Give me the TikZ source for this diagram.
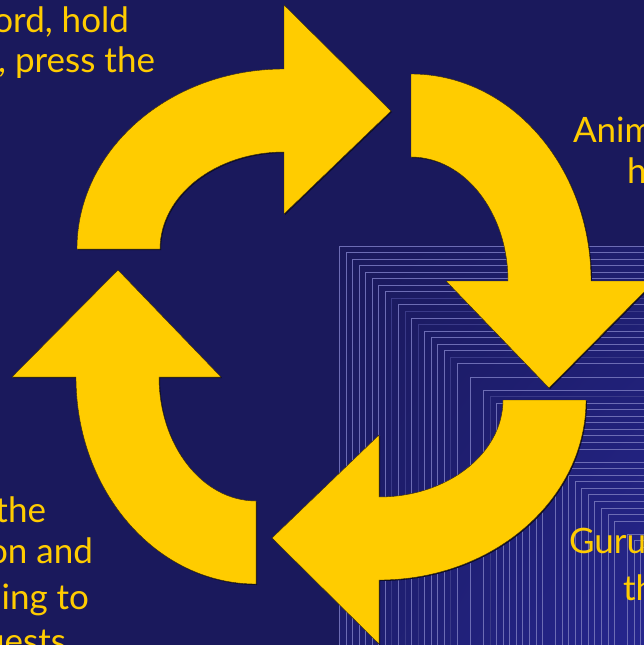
\documentclass[tikz,border=0pt]{standalone}
\usepackage{fontspec}
\setmainfont{Lato}
\usetikzlibrary{shadings}
\definecolor{bg}{RGB}{26,25,92}
\definecolor{gold}{RGB}{255,204,0}
\definecolor{lineA}{RGB}{108,108,180}
\definecolor{lineB}{RGB}{58,58,136}
\definecolor{shadowc}{RGB}{12,12,40}
\definecolor{glow}{RGB}{38,38,142}
\definecolor{midc}{RGB}{30,30,110}
\definecolor{edgec}{RGB}{60,45,10}
\newcommand\arrowpath{(77,249) arc[start angle=180,end angle=270,x radius=207,y radius=180] -- (284,5) -- (391,111) -- (284,214) -- (284,152) arc[start angle=270,end angle=180,x radius=124,y radius=97] -- cycle}
\newcommand\CycArrow[2]{%
  \begin{scope}[shift={#2}]
    \begin{scope}[xshift=1pt,yshift=-1pt,rotate around={#1:(331.5,328.5)}]
      \fill[shadowc] \arrowpath;
    \end{scope}
    \begin{scope}[rotate around={#1:(331.5,328.5)}]
      \fill[arrowfill] \arrowpath;
    \end{scope}
  \end{scope}}
\tikzset{
  arrowfill/.style={fill=gold, draw=edgec, line width=0.4pt},
  txt/.style={text=gold, font=\fontsize{35}{42}\selectfont, inner sep=0pt, outer sep=0pt},
  brightline/.style={draw=lineA, line width=1pt},
  faintline/.style={draw=lineB, line width=1pt}
}
\begin{document}
\begin{tikzpicture}[x=1pt,y=-1pt]
\useasboundingbox (0,0) rectangle (644,645);
\clip (0,0) rectangle (644,645);
\fill[bg] (0,0) rectangle (644,645);
% shaded nested region
\shade[upper left=bg, upper right=midc, lower left=midc, lower right=glow] (339.5,246) rectangle (644,645);
\foreach \i in {8,10,12,17,23}{
  \draw[faintline] ({339.5+6.55*\i},646) |- (645,{246+6.55*\i});
}
\foreach \i in {0,1,2,3,4,5,6,7,9,11,13,14,15,16,18,20,22,24,25,26,27,28,29,30,31,33,34,35,36,37,38,39,40,41,42,44,45,46}{
  \draw[brightline] ({339.5+6.55*\i},646) |- (645,{246+6.55*\i});
}
% arrows
\CycArrow{0}{(0,0)}
\CycArrow{-90}{(0,0)}
\CycArrow{180}{(0,-8)}
\CycArrow{90}{(4,1)}
% texts
\node[txt, anchor=base east] (t1) at (129,32) {ord, hold};
\node[txt, anchor=base east] (t2) at (155,72) {, press the};
\node[txt, anchor=base west] (t3) at (573,142) {Anim};
\node[txt, anchor=base west] (t4) at (627,183) {h};
\node[txt, anchor=base east] (t5) at (46,522) {the};
\node[txt, anchor=base east] (t6) at (93,563) {on and};
\node[txt, anchor=base east] (t7) at (89,609) {ing to};
\node[txt, anchor=base east] (t8) at (66,653) {uests};
\node[txt, anchor=base west] (t9) at (569,553) {Guru};
\node[txt, anchor=base west] (t10) at (623,600) {th};
\end{tikzpicture}
\end{document}
